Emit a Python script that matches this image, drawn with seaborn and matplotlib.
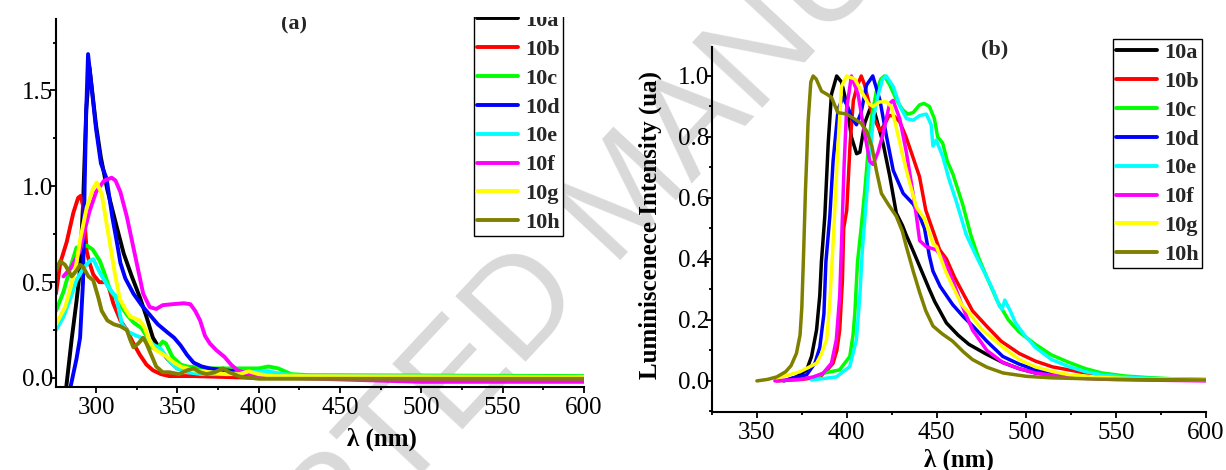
import pandas as pd
import seaborn as sns
import matplotlib.pyplot as plt
from matplotlib.lines import Line2D
from matplotlib.patches import Rectangle
from matplotlib.ticker import MultipleLocator, FormatStrFormatter

names = ['10a', '10b', '10c', '10d', '10e', '10f', '10g', '10h']
colors = ['#000000', '#ff0000', '#00ff00', '#0000ff', '#00ffff', '#ff00ff', '#ffff00', '#808000']

# ---- (a) absorption: wavelength (nm) / absorbance
abs_10a_wl = [281, 285, 288, 290, 292, 294, 296, 300, 303, 307, 313, 317, 322, 327, 331, 335, 340, 344, 350, 360, 380, 400, 450, 600]
abs_10a = [-0.1, 0.2, 0.4, 0.55, 0.9, 1.4, 1.62, 1.32, 1.15, 0.98, 0.78, 0.65, 0.53, 0.42, 0.32, 0.21, 0.14, 0.1, 0.05, 0.03, 0.02, 0.01, 0.0, 0.0]
abs_10b_wl = [275.4, 278, 282, 286, 289, 290.5, 292, 293.2, 294.3, 296, 298.3, 302, 306, 308, 310.6, 315, 319, 323, 327, 331, 335, 340, 345, 360, 400, 600]
abs_10b = [0.44, 0.6, 0.71, 0.86, 0.94, 0.95, 0.9, 0.79, 0.66, 0.6, 0.54, 0.5, 0.5, 0.47, 0.39, 0.3, 0.25, 0.18, 0.12, 0.07, 0.04, 0.02, 0.01, 0.01, 0.0, 0.0]
abs_10c_wl = [275.4, 280, 284, 288, 291, 294.5, 298, 302.4, 305, 308.6, 312, 315, 319, 323, 328, 331, 334, 337, 341, 343, 347, 352, 356, 370, 380, 395, 400, 406, 412, 420, 430, 600]
abs_10c = [0.35, 0.45, 0.57, 0.68, 0.69, 0.69, 0.67, 0.61, 0.55, 0.46, 0.42, 0.38, 0.33, 0.29, 0.26, 0.22, 0.16, 0.15, 0.19, 0.18, 0.11, 0.07, 0.06, 0.05, 0.05, 0.05, 0.05, 0.06, 0.05, 0.02, 0.015, 0.01]
abs_10d_wl = [283, 288, 290.2, 292, 293, 294, 295.1, 300, 303, 306.5, 310, 313, 315, 318, 323, 328, 333, 338, 343.6, 348, 352, 356, 360, 365, 370, 380, 400, 420, 600]
abs_10d = [-0.1, 0.1, 0.21, 0.5, 1.0, 1.4, 1.69, 1.3, 1.12, 1.04, 0.84, 0.7, 0.6, 0.52, 0.44, 0.38, 0.33, 0.28, 0.24, 0.21, 0.17, 0.12, 0.08, 0.06, 0.05, 0.04, 0.02, 0.01, 0.0]
abs_10e_wl = [275.4, 280, 284, 288, 292, 296, 298.3, 300, 303, 306.5, 310.6, 312, 313.5, 316, 320, 325, 331, 336, 340, 345, 350, 356, 365, 380, 395, 405, 415, 430, 600]
abs_10e = [0.25, 0.32, 0.41, 0.51, 0.57, 0.61, 0.62, 0.59, 0.54, 0.49, 0.44, 0.43, 0.38, 0.28, 0.24, 0.22, 0.2, 0.17, 0.15, 0.09, 0.05, 0.03, 0.02, 0.02, 0.03, 0.035, 0.02, 0.01, 0.005]
abs_10f_wl = [280, 285, 290, 293, 296, 300, 305, 309.6, 312, 315, 319, 322, 325, 329, 333, 337, 341, 347, 354, 358, 361, 364, 367, 370, 374, 379, 383, 387, 392, 400, 420, 460, 500, 600]
abs_10f = [0.53, 0.58, 0.66, 0.77, 0.87, 0.97, 1.03, 1.045, 1.03, 0.97, 0.84, 0.72, 0.6, 0.44, 0.37, 0.36, 0.38, 0.385, 0.39, 0.385, 0.35, 0.3, 0.22, 0.18, 0.145, 0.11, 0.07, 0.04, 0.025, 0.01, 0.0, -0.01, -0.02, -0.02]
abs_10g_wl = [275.4, 281, 284, 288, 290.2, 294.3, 298.3, 300.4, 303.5, 307.6, 311.7, 314.7, 318, 321, 324, 327, 330, 333, 336, 340, 343.6, 348, 352, 360, 370, 380, 388, 394, 400, 410, 600]
abs_10g = [0.28, 0.37, 0.46, 0.6, 0.72, 0.89, 0.99, 1.02, 0.96, 0.75, 0.54, 0.41, 0.36, 0.32, 0.31, 0.3, 0.26, 0.19, 0.15, 0.13, 0.11, 0.08, 0.06, 0.04, 0.03, 0.02, 0.02, 0.035, 0.02, 0.01, 0.005]
abs_10h_wl = [275.4, 277.9, 281, 285, 288, 290.2, 292, 295.3, 298.3, 301.4, 303.5, 307, 311, 315, 319, 321, 323, 326, 329, 331, 334, 337, 341, 345, 351, 356, 360, 364, 368, 373, 378, 382, 388.5, 400, 600]
abs_10h = [0.56, 0.61, 0.59, 0.53, 0.56, 0.59, 0.58, 0.53, 0.51, 0.42, 0.35, 0.3, 0.28, 0.27, 0.25, 0.2, 0.16, 0.18, 0.21, 0.18, 0.12, 0.06, 0.03, 0.03, 0.02, 0.04, 0.05, 0.03, 0.02, 0.03, 0.05, 0.03, 0.007, -0.004, -0.004]

# ---- (b) luminescence: wavelength (nm) / normalised intensity
lum_10a_wl = [368, 372, 377.7, 380.4, 383.2, 385, 385.9, 387.8, 389.7, 391.5, 394.4, 397.1, 399.9, 402.6, 405.5, 407.3, 410, 412.8, 415.6, 420.2, 424, 427.6, 431, 433, 436.7, 441, 446, 449, 455.5, 462, 468, 477, 487, 496, 505, 520, 540, 570, 600]
lum_10a = [0.005, 0.013, 0.036, 0.08, 0.167, 0.28, 0.39, 0.54, 0.78, 0.94, 1.0, 0.98, 0.91, 0.8, 0.745, 0.75, 0.845, 0.89, 0.88, 0.78, 0.67, 0.55, 0.51, 0.48, 0.43, 0.37, 0.3, 0.26, 0.19, 0.15, 0.12, 0.09, 0.06, 0.04, 0.026, 0.015, 0.01, 0.005, 0.003]
lum_10b_wl = [361, 375, 385, 389, 392.4, 394.5, 396.1, 397.6, 398.3, 400, 401.9, 403.7, 406, 408.1, 410, 412, 414.5, 418.5, 421, 423.5, 426, 429.5, 433, 436.5, 440.5, 444, 451.7, 455.5, 460, 464.5, 470, 477.8, 486, 496, 505, 514.5, 533, 550, 575, 600]
lum_10b = [0.0, 0.005, 0.013, 0.035, 0.058, 0.1, 0.167, 0.33, 0.5, 0.56, 0.78, 0.92, 0.97, 1.0, 0.97, 0.92, 0.87, 0.82, 0.84, 0.87, 0.87, 0.85, 0.8, 0.74, 0.67, 0.56, 0.43, 0.4, 0.34, 0.29, 0.23, 0.18, 0.13, 0.09, 0.065, 0.046, 0.026, 0.013, 0.007, 0.004]
lum_10c_wl = [381, 386.8, 396, 401.7, 403.5, 404.5, 406, 408, 410, 412, 414, 416.5, 419, 421, 424, 427.8, 431, 434, 437, 440.5, 443, 446, 448.8, 450.6, 453.4, 456, 459, 464.5, 469, 473, 478, 484, 490, 496, 505, 514, 524, 533, 542, 555, 570, 585, 600]
lum_10c = [0.005, 0.025, 0.036, 0.08, 0.15, 0.22, 0.39, 0.5, 0.62, 0.76, 0.87, 0.95, 0.99, 1.0, 0.97, 0.92, 0.89, 0.875, 0.88, 0.905, 0.91, 0.9, 0.86, 0.8, 0.78, 0.72, 0.68, 0.58, 0.48, 0.41, 0.34, 0.26, 0.2, 0.16, 0.12, 0.085, 0.06, 0.04, 0.026, 0.016, 0.01, 0.006, 0.004]
lum_10d_wl = [365, 370.2, 377.7, 382.3, 385, 387.3, 388.4, 390.6, 392.4, 395.2, 397.9, 400.5, 403, 405.4, 408, 411, 414.5, 418.5, 422.2, 425.9, 431.4, 437, 440.6, 443.3, 446, 448, 452, 459, 465, 470.2, 478, 486.9, 496, 505, 515, 524, 540, 560, 600]
lum_10d = [0.0, 0.01, 0.02, 0.058, 0.11, 0.22, 0.39, 0.54, 0.72, 0.89, 0.93, 0.9, 0.86, 0.84, 0.88, 0.97, 1.0, 0.92, 0.8, 0.69, 0.615, 0.58, 0.54, 0.5, 0.41, 0.36, 0.31, 0.25, 0.21, 0.18, 0.13, 0.08, 0.055, 0.036, 0.022, 0.015, 0.008, 0.005, 0.003]
lum_10e_wl = [380.4, 394.2, 401.7, 405.4, 407.3, 408.7, 411, 413, 415, 418, 420, 422, 425.9, 429.6, 433.3, 437, 440.6, 444.3, 447, 448, 449.8, 453.5, 457, 460.9, 466.5, 472, 478, 482, 485, 486.5, 488, 491, 494, 499, 505, 514, 524, 533, 542, 555, 570, 600]
lum_10e = [0.003, 0.013, 0.047, 0.135, 0.28, 0.43, 0.6, 0.75, 0.87, 0.95, 0.99, 1.0, 0.965, 0.9, 0.86, 0.855, 0.87, 0.875, 0.84, 0.77, 0.79, 0.735, 0.66, 0.59, 0.48, 0.41, 0.34, 0.29, 0.245, 0.235, 0.265, 0.23, 0.19, 0.15, 0.11, 0.07, 0.046, 0.03, 0.02, 0.012, 0.008, 0.005]
lum_10f_wl = [360, 373.9, 381.3, 386.8, 391.5, 394.2, 396.1, 397.1, 398.5, 399.9, 402.6, 406.3, 410, 412.8, 414.6, 417.4, 420.2, 423.9, 425.8, 429.5, 433.2, 436.9, 438.8, 440.6, 444.3, 449.8, 454, 459, 464, 470, 478, 487, 496, 505, 524, 550, 600]
lum_10f = [0.0, 0.005, 0.013, 0.025, 0.058, 0.135, 0.28, 0.45, 0.7, 0.89, 1.0, 0.94, 0.81, 0.72, 0.71, 0.75, 0.81, 0.91, 0.92, 0.86, 0.75, 0.615, 0.54, 0.46, 0.44, 0.43, 0.4, 0.33, 0.25, 0.167, 0.1, 0.06, 0.04, 0.026, 0.01, 0.004, 0.0]
lum_10g_wl = [361, 368, 373.9, 379, 383.2, 386, 388.8, 390.5, 392.4, 395.2, 397.1, 399.9, 404.5, 408.2, 411.9, 414.6, 418.3, 422, 424.8, 427.6, 431.3, 435, 438.8, 443.4, 448, 450, 455, 459, 464, 468.5, 475, 487, 496, 505, 515, 524, 540, 560, 600]
lum_10g = [0.01, 0.02, 0.03, 0.045, 0.058, 0.09, 0.135, 0.25, 0.45, 0.78, 0.965, 1.0, 0.99, 0.95, 0.91, 0.9, 0.915, 0.915, 0.9, 0.83, 0.735, 0.65, 0.57, 0.53, 0.45, 0.44, 0.36, 0.31, 0.25, 0.22, 0.17, 0.11, 0.07, 0.046, 0.03, 0.02, 0.012, 0.007, 0.004]
lum_10h_wl = [350, 356, 361, 366, 369, 372, 374, 375, 376, 377, 378.5, 380, 381.3, 383, 386, 389, 391.5, 395, 400, 404, 408, 411, 414, 416.5, 419.3, 423, 427.6, 431, 433.2, 437, 440.6, 444, 448, 453, 459, 465, 470, 478, 487, 500, 514, 540, 600]
lum_10h = [0.0, 0.005, 0.013, 0.03, 0.05, 0.09, 0.15, 0.24, 0.42, 0.62, 0.85, 0.98, 1.0, 0.99, 0.95, 0.94, 0.93, 0.88, 0.875, 0.86, 0.845, 0.82, 0.77, 0.69, 0.615, 0.58, 0.54, 0.49, 0.44, 0.36, 0.29, 0.23, 0.18, 0.155, 0.13, 0.095, 0.07, 0.045, 0.026, 0.015, 0.01, 0.006, 0.003]

abs_wl = [abs_10a_wl, abs_10b_wl, abs_10c_wl, abs_10d_wl, abs_10e_wl, abs_10f_wl, abs_10g_wl, abs_10h_wl]
abs_val = [abs_10a, abs_10b, abs_10c, abs_10d, abs_10e, abs_10f, abs_10g, abs_10h]
lum_wl = [lum_10a_wl, lum_10b_wl, lum_10c_wl, lum_10d_wl, lum_10e_wl, lum_10f_wl, lum_10g_wl, lum_10h_wl]
lum_val = [lum_10a, lum_10b, lum_10c, lum_10d, lum_10e, lum_10f, lum_10g, lum_10h]


def long_table(wls, vals):
    parts = [pd.DataFrame({'wl': w, 'val': v, 'cmp': n}) for w, v, n in zip(wls, vals, names)]
    return pd.concat(parts, ignore_index=True)


df_abs = long_table(abs_wl, abs_val)
df_lum = long_table(lum_wl, lum_val)
palette = dict(zip(names, colors))

sns.set_theme(style='ticks')
plt.rcParams['font.family'] = ['Liberation Serif', 'DejaVu Serif']
plt.rcParams['axes.linewidth'] = 1.5

fig = plt.figure(figsize=(12.26, 4.70), dpi=100)
fig.patch.set_facecolor('white')

# faint watermark behind everything
fig.text(0.513, 0.577, 'ACCEPTED MANUSCRIPT', rotation=47, rotation_mode='anchor',
         ha='center', va='center', fontsize=100, color='#d9d9d9',
         family='Liberation Sans', zorder=-1)

ax1 = fig.add_axes([56 / 1226, 1 - 387 / 470, 528 / 1226, 368 / 470])
ax2 = fig.add_axes([712 / 1226, 1 - 412 / 470, 494 / 1226, 365 / 470])

sns.lineplot(data=df_abs, x='wl', y='val', hue='cmp', hue_order=names, palette=palette,
             estimator=None, sort=False, lw=2.8, legend=False, ax=ax1)
sns.lineplot(data=df_lum, x='wl', y='val', hue='cmp', hue_order=names, palette=palette,
             estimator=None, sort=False, lw=2.5, legend=False, ax=ax2)

ax1.set_xlim(275.4, 600)
ax1.set_ylim(-0.047, 1.873)
ax1.xaxis.set_major_locator(MultipleLocator(50))
ax1.xaxis.set_minor_locator(MultipleLocator(25))
ax1.yaxis.set_major_locator(MultipleLocator(0.5))
ax1.yaxis.set_minor_locator(MultipleLocator(0.25))

ax2.set_xlim(325, 600)
ax2.set_ylim(-0.102, 1.095)
ax2.xaxis.set_major_locator(MultipleLocator(50))
ax2.xaxis.set_minor_locator(MultipleLocator(25))
ax2.yaxis.set_major_locator(MultipleLocator(0.2))
ax2.yaxis.set_minor_locator(MultipleLocator(0.1))

for ax in (ax1, ax2):
    ax.set_facecolor('none')
    sns.despine(ax=ax)
    ax.spines['left'].set_color('black')
    ax.spines['bottom'].set_color('black')
    ax.yaxis.set_major_formatter(FormatStrFormatter('%.1f'))
    ax.tick_params(which='both', direction='out', color='black', width=1.3)
    ax.tick_params(which='major', length=4, labelsize=18, labelcolor='black')
    ax.tick_params(which='minor', length=2.5)
    ax.tick_params(axis='x', which='major', pad=3.5)
    ax.tick_params(axis='y', which='major', pad=-2.2)
    ax.set_xlabel('λ (nm)', fontsize=18, fontweight='bold', color='black')
    ax.set_ylabel('')
    ax.grid(False)

ax1.xaxis.set_label_coords(0.617, -0.109)
ax2.xaxis.set_label_coords(0.5, -0.1)
ax2.set_ylabel('Luminiscenece Intensity (ua)', fontsize=18, fontweight='bold', color='black')
ax2.yaxis.set_label_coords(-0.101, 0.512)

handles = [Line2D([], [], color=c, lw=2.8) for c in colors]
leg_style = dict(loc='upper left', bbox_transform=fig.transFigure, borderaxespad=0,
                 frameon=True, fancybox=False, framealpha=1, edgecolor='black',
                 handlelength=1.85, handletextpad=0.3, borderpad=0.15, labelspacing=0.375,
                 prop={'weight': 'bold', 'size': 16, 'family': 'Liberation Serif'})
leg1 = fig.legend(handles, names, bbox_to_anchor=(474 / 1226, 1 - 7 / 470), **leg_style)
leg2 = fig.legend(handles, names, bbox_to_anchor=(1113 / 1226, 1 - 39 / 470), **leg_style)
for leg in (leg1, leg2):
    leg.get_frame().set_linewidth(1.0)

fig.text(294 / 1226, 1 - 29 / 470, '(a)', ha='center', va='baseline', fontsize=16, fontweight='bold')
fig.text(995 / 1226, 1 - 54 / 470, '(b)', ha='center', va='baseline', fontsize=16, fontweight='bold')

# the left chart is cut off along the top edge
fig.add_artist(Rectangle((0, 1 - 17 / 470), 640 / 1226, 17 / 470, transform=fig.transFigure,
                         facecolor='white', edgecolor='none', zorder=10))

fig.savefig('out.png', dpi=100)
